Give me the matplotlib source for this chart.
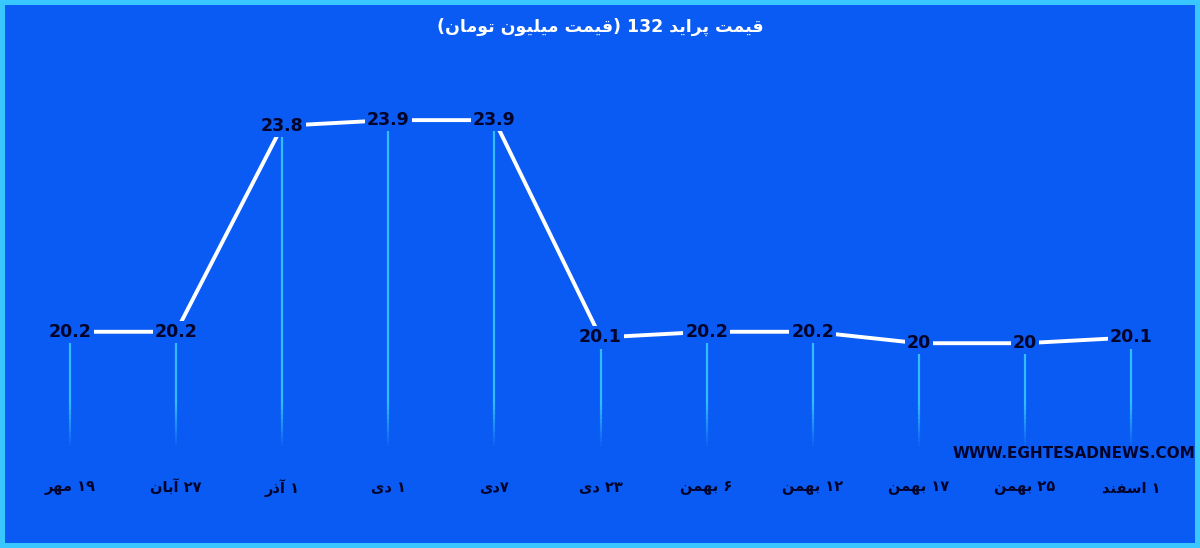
import matplotlib
matplotlib.use("Agg")
import matplotlib.pyplot as plt

# --- datos del grafico ---
fechas = ["۱۹ مهر", "۲۷ آبان", "۱ آذر", "۱ دی", "۷دی", "۲۳ دی",
          "۶ بهمن", "۱۲ بهمن", "۱۷ بهمن", "۲۵ بهمن", "۱ اسفند"]
precios = [20.2, 20.2, 23.8, 23.9, 23.9, 20.1, 20.2, 20.2, 20, 20, 20.1]
etiquetas = ["20.2", "20.2", "23.8", "23.9", "23.9", "20.1",
             "20.2", "20.2", "20", "20", "20.1"]
titulo = "قیمت پراید 132 (قیمت میلیون تومان)"
marca = "WWW.EGHTESADNEWS.COM"

FONDO = "#0a5af4"
CIAN = "#38c8ff"
AZUL_OSCURO = "#02042a"

# formas de presentacion: aislada, final, inicial, media
FORMAS = {
    "ا": ("\uFE8D", "\uFE8E"), "آ": ("\uFE81", "\uFE82"),
    "د": ("\uFEA9", "\uFEAA"), "ذ": ("\uFEAB", "\uFEAC"),
    "ر": ("\uFEAD", "\uFEAE"), "و": ("\uFEED", "\uFEEE"),
    "ب": ("\uFE8F", "\uFE90", "\uFE91", "\uFE92"),
    "پ": ("\uFB56", "\uFB57", "\uFB58", "\uFB59"),
    "ت": ("\uFE95", "\uFE96", "\uFE97", "\uFE98"),
    "س": ("\uFEB1", "\uFEB2", "\uFEB3", "\uFEB4"),
    "ف": ("\uFED1", "\uFED2", "\uFED3", "\uFED4"),
    "ق": ("\uFED5", "\uFED6", "\uFED7", "\uFED8"),
    "ل": ("\uFEDD", "\uFEDE", "\uFEDF", "\uFEE0"),
    "م": ("\uFEE1", "\uFEE2", "\uFEE3", "\uFEE4"),
    "ن": ("\uFEE5", "\uFEE6", "\uFEE7", "\uFEE8"),
    "ه": ("\uFEE9", "\uFEEA", "\uFEEB", "\uFEEC"),
    "ی": ("\uFBFC", "\uFBFD", "\uFBFE", "\uFBFF"),
}


def rtl(texto):
    # unir letras y poner en orden visual (de derecha a izquierda)
    salida = []
    for i, c in enumerate(texto):
        if c not in FORMAS:
            salida.append(c)
            continue
        prev = texto[i - 1] if i > 0 else ""
        sig = texto[i + 1] if i + 1 < len(texto) else ""
        une_prev = prev in FORMAS and len(FORMAS[prev]) == 4
        une_sig = len(FORMAS[c]) == 4 and sig in FORMAS
        f = FORMAS[c]
        if une_prev and une_sig:
            salida.append(f[3])
        elif une_prev:
            salida.append(f[1])
        elif une_sig:
            salida.append(f[2])
        else:
            salida.append(f[0])
    salida = salida[::-1]
    espejo = {"(": ")", ")": "("}
    salida = [espejo.get(c, c) for c in salida]
    # los numeros se leen de izquierda a derecha
    res, num = [], []
    for c in salida + [""]:
        if c and (c.isdigit() or (c == "." and num)):
            num.append(c)
        else:
            res.extend(num[::-1])
            num = []
            res.append(c)
    return "".join(res)


fig = plt.figure(figsize=(12, 5.48), dpi=100, facecolor=FONDO,
                 edgecolor=CIAN, linewidth=6)
ax = fig.add_axes([0, 0, 1, 1])
ax.set_facecolor(FONDO)
ax.set_xlim(-0.66, 10.65)
ax.set_ylim(16.42, 26.0)
ax.axis("off")

x = list(range(len(precios)))

# lineas verticales: parte solida y final que se desvanece
ax.vlines(x, 19.0, precios, color=CIAN, linewidth=1.6, alpha=0.9, zorder=1)
pasos = 10
for k in range(pasos):
    y0 = 19.0 - k * 0.08
    ax.vlines(x, y0 - 0.08, y0, color=CIAN, linewidth=1.6,
              alpha=0.9 * (1 - k / pasos), zorder=1)

ax.plot(x, precios, color="white", linewidth=2.8, zorder=2,
        solid_capstyle="round")

for xi, yi, et in zip(x, precios, etiquetas):
    ax.text(xi, yi, et, ha="center", va="center", fontsize=12.5,
            fontweight="bold", color=AZUL_OSCURO, zorder=3,
            bbox=dict(facecolor=FONDO, edgecolor="none", pad=1.5))

for xi, f in zip(x, fechas):
    ax.text(xi, 16.42 + (548 - 488) / 57.2, rtl(f), ha="center", va="center",
            fontsize=10.5, fontweight="bold", color=AZUL_OSCURO)

fig.text(0.5, 1 - 27 / 548, rtl(titulo), ha="center", va="center",
         fontsize=12.5, fontweight="bold", color="white")
fig.text(0.996, 1 - 453 / 548, marca, ha="right", va="center",
         fontsize=11, fontweight="bold", color=AZUL_OSCURO)

fig.savefig("out.png", dpi=100, facecolor=FONDO, edgecolor=CIAN)
